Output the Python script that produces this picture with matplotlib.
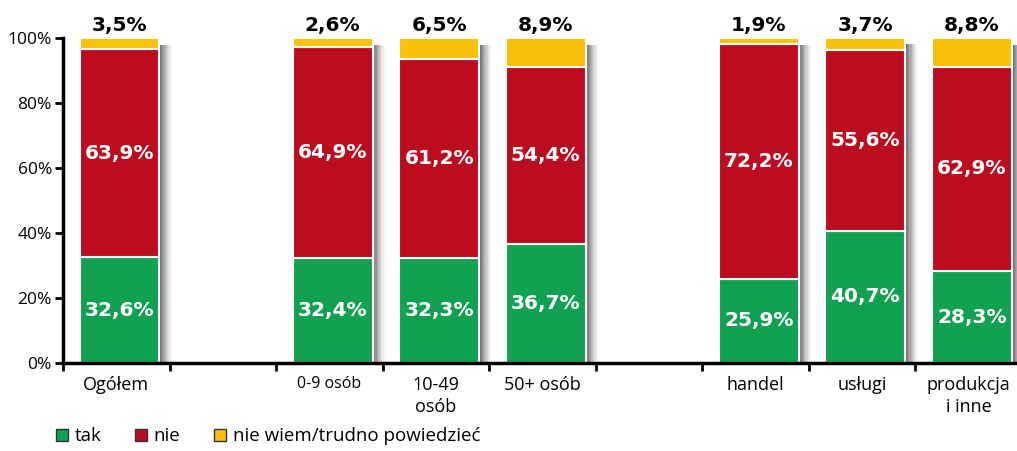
import numpy as np
import matplotlib
matplotlib.use('Agg')
import matplotlib.pyplot as plt
from matplotlib.patches import Patch

# dane z wykresu
kategorie = ['Ogółem', '', '0-9 osób', '10-49\nosób', '50+ osób', '', 'handel', 'usługi', 'produkcja\ni inne']
tak = [32.6, None, 32.4, 32.3, 36.7, None, 25.9, 40.7, 28.3]
nie = [63.9, None, 64.9, 61.2, 54.4, None, 72.2, 55.6, 62.9]
nie_wiem = [3.5, None, 2.6, 6.5, 8.9, None, 1.9, 3.7, 8.8]
serie = ['tak', 'nie', 'nie wiem/trudno powiedzieć']
kolory = ['#12a150', '#bc0d20', '#f9c10a']

fig = plt.figure(figsize=(10.17, 4.51), dpi=100)
ax = fig.add_axes([63/1017, 88/451, 959/1017, 325/451])

w = 0.75
off = 0.03
for i in range(len(kategorie)):
    if tak[i] is None:
        continue
    x = i + off
    suma = tak[i] + nie[i] + nie_wiem[i]
    # cien po prawej stronie slupka
    for k in range(10):
        ax.bar(x + w/2 + 0.005 + k*0.011, suma - 2, width=0.011, bottom=0, align='edge',
               color='#5e5456', alpha=0.85*(1 - k/10)**1.3, linewidth=0, zorder=1)
    dol = 0
    for v, c in zip([tak[i], nie[i], nie_wiem[i]], kolory):
        ax.bar(x, v, width=w, bottom=dol, color=c, edgecolor='white', linewidth=1.5, zorder=2)
        dol += v
    ax.text(x, tak[i]/2, f'{tak[i]:.1f}%'.replace('.', ','), ha='center', va='center',
            color='white', fontsize=14.5, fontweight='bold', family='DejaVu Sans', zorder=3)
    ax.text(x, tak[i] + nie[i]/2, f'{nie[i]:.1f}%'.replace('.', ','), ha='center', va='center',
            color='white', fontsize=14.5, fontweight='bold', family='DejaVu Sans', zorder=3)
    ax.text(x, 101, f'{nie_wiem[i]:.1f}%'.replace('.', ','), ha='center', va='bottom',
            color='black', fontsize=14.5, fontweight='bold', family='DejaVu Sans', zorder=3)

ax.set_xlim(-0.5, len(kategorie) - 0.5)
ax.set_ylim(0, 100)
ax.set_yticks(range(0, 101, 20))
ax.set_yticklabels([f'{v}%' for v in range(0, 101, 20)], fontsize=12.5, family='Open Sans')
ax.set_xticks(np.arange(-0.5, len(kategorie), 1))
ax.set_xticklabels([])
ax.set_xticks(range(len(kategorie)), minor=True)
ax.set_xticklabels(kategorie, minor=True, fontsize=13, family='Open Sans', linespacing=1.35)
ax.tick_params(axis='x', which='minor', length=0, pad=9)
ax.tick_params(axis='x', which='major', length=6, width=2, direction='out')
ax.tick_params(axis='y', length=6, width=2, direction='out', pad=2)
for lab in ax.get_xticklabels(minor=True):
    lab.set_va('top')
    if lab.get_text() == '0-9 osób':
        lab.set_fontsize(11.5)
for s in ['top', 'right']:
    ax.spines[s].set_visible(False)
for s in ['left', 'bottom']:
    ax.spines[s].set_linewidth(2.5)

uchwyty = [Patch(facecolor=c, edgecolor='#333333', linewidth=1) for c in kolory]
fig.legend(uchwyty, serie, loc='lower left', bbox_to_anchor=(0.038, -0.025), ncol=3, frameon=False,
           prop={'family': 'Open Sans', 'size': 13.5}, handlelength=0.65, handleheight=0.65,
           handletextpad=0.35, columnspacing=1.8)

fig.savefig('out.png', dpi=100)
